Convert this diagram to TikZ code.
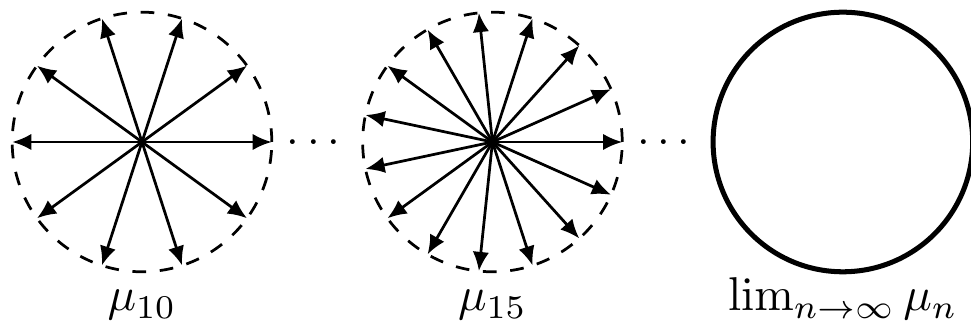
\documentclass[tikz,border=0pt]{standalone}
\usepackage{amsmath, amssymb}
\usepackage{tikz}
\usetikzlibrary{arrows.meta, positioning}

\begin{document}
\begin{tikzpicture}[
  ring/.style={circle, draw, dashed, line width=0.6pt, minimum size=2cm, inner sep=0pt, outer sep=0pt},
  limring/.style={circle, draw, line width=1.1pt, minimum size=2cm, inner sep=0pt, outer sep=0pt},
  arr/.style={line width=0.6pt, -{Latex[length=4.2pt, width=3.6pt]}},
  lbl/.style={anchor=base, scale=1.04},
]
\useasboundingbox (-1.094,-1.433) rectangle (6.387,1.094);

\node[ring]    (mu10)  at (0, 0)   {};
\node[ring]    (mu15)  at (2.7, 0) {};
\node[limring] (mulim) at (5.4, 0) {};

% spokes
\foreach \a in {0,36,...,324}
  \draw[arr] (mu10.center) -- (mu10.\a);
\foreach \a in {0,24,...,336}
  \draw[arr] (mu15.center) -- (mu15.\a);

\node[anchor=base] (dots1) at (1.35,-0.088) {$\cdots$};
\node[anchor=base] (dots2) at (4.05,-0.088) {$\cdots$};

\node[lbl] (lab10)  at (0,-1.302)   {$\mu_{10}$};
\node[lbl] (lab15)  at (2.7,-1.302) {$\mu_{15}$};
\node[lbl] (lablim) at (5.4,-1.302) {$\lim_{n\to\infty}\mu_n$};

\end{tikzpicture}
\end{document}
